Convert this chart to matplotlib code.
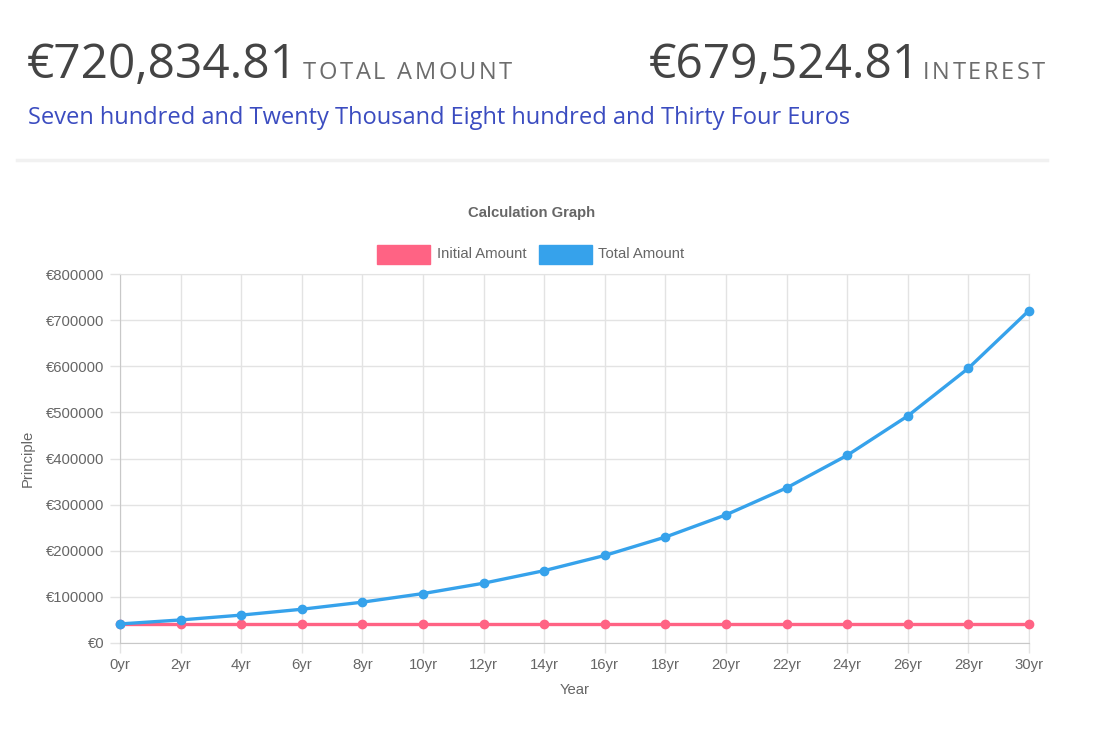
import matplotlib
matplotlib.use("Agg")
import matplotlib.pyplot as plt
from matplotlib.lines import Line2D
from matplotlib.patches import Rectangle

# data
years = [0, 2, 4, 6, 8, 10, 12, 14, 16, 18, 20, 22, 24, 26, 28, 30]
year_labels = [str(y) + "yr" for y in years]
initial_amount = [41310] * 16
total_amount = [41310, 49985, 60482, 73183, 88552, 107148, 129648, 156875,
                189818, 229680, 277913, 336275, 406892, 492340, 595731, 720834.81]
y_ticks = [0, 100000, 200000, 300000, 400000, 500000, 600000, 700000, 800000]

total_text = "€720,834.81"
interest_text = "€679,524.81"
words_text = "Seven hundred and Twenty Thousand Eight hundred and Thirty Four Euros"

W, H = 1107, 732
fig = plt.figure(figsize=(W / 100, H / 100), dpi=100)
fig.patch.set_facecolor("white")


def px(x, y):
    return x / W, 1 - y / H


def spaced(x, y, s, size, color, spacing):
    # draw text letter by letter to get the css letter-spacing look
    fig.canvas.draw()
    r = fig.canvas.get_renderer()
    cur = x
    for ch in s:
        t = fig.text(*px(cur, y), ch, fontsize=size, color=color,
                     family="Open Sans", va="baseline", ha="left")
        bb = t.get_window_extent(renderer=r)
        w = bb.width if ch != " " else size * 0.26 / 0.72
        cur += w + spacing


# header
fig.text(*px(27, 78), total_text, fontsize=34.5, color="#444444",
         family="Open Sans", va="baseline")
spaced(303, 79, "TOTAL AMOUNT", 17, "#6c6c6c", 2.6)
fig.text(*px(649, 78), interest_text, fontsize=34.5, color="#444444",
         family="Open Sans", va="baseline")
spaced(923, 79, "INTEREST", 17, "#6c6c6c", 2.6)
fig.text(*px(28, 124), words_text, fontsize=17, color="#3b4cc0",
         family="Open Sans", va="baseline")
fig.add_artist(Line2D([17 / W, 1047 / W], [1 - 160 / H] * 2, color="#f1f1f1", lw=2.5))

# chart
fs = 10.7
ax = fig.add_axes([120 / W, 89 / H, 909 / W, 369 / H])
ax.plot(years, initial_amount, color="#ff6384", lw=2.4, marker="o", ms=6,
        zorder=3, clip_on=False)
ax.plot(years, total_amount, color="#36a2eb", lw=2.4, marker="o", ms=6,
        zorder=4, clip_on=False)
ax.set_xlim(0, 30)
ax.set_ylim(0, 800000)
ax.set_xticks(years)
ax.set_xticklabels(year_labels)
ax.set_yticks(y_ticks)
ax.set_yticklabels(["€" + str(v) for v in y_ticks])
ax.grid(True, color="#e3e3e3", lw=1)
ax.set_axisbelow(True)
for s in ax.spines.values():
    s.set_color("#e3e3e3")
ax.spines["bottom"].set_color("#c8c8c8")
ax.spines["left"].set_color("#c8c8c8")
ax.tick_params(axis="both", colors="#e3e3e3", labelcolor="#666666",
               length=7, width=1, labelsize=fs, pad=4)
for lab in ax.get_xticklabels() + ax.get_yticklabels():
    lab.set_family("Liberation Sans")
ax.set_xlabel("Year", fontsize=fs, color="#666666", family="Liberation Sans", labelpad=8)
ax.set_ylabel("Principle", fontsize=fs, color="#666666", family="Liberation Sans", labelpad=8)

fig.text(*px(532, 213), "Calculation Graph", fontsize=fs, color="#666666",
         family="Liberation Sans", weight="bold", ha="center", va="center")

# legend like chart.js
fig.add_artist(Rectangle(px(377, 264), 53 / W, 19 / H, color="#ff6384"))
fig.text(*px(437, 254), "Initial Amount", fontsize=fs, color="#666666",
         family="Liberation Sans", va="center")
fig.add_artist(Rectangle(px(539, 264), 53 / W, 19 / H, color="#36a2eb"))
fig.text(*px(598, 254), "Total Amount", fontsize=fs, color="#666666",
         family="Liberation Sans", va="center")

fig.savefig("out.png", dpi=100)
